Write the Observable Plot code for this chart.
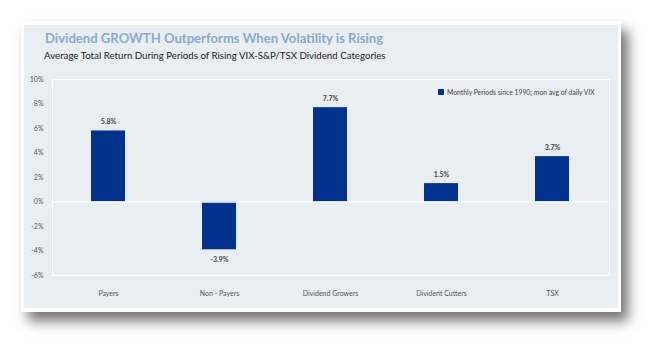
<!DOCTYPE html>
<html>
<head>
<meta charset="utf-8">
<script src="https://cdn.jsdelivr.net/npm/d3@7"></script>
<script src="https://cdn.jsdelivr.net/npm/@observablehq/plot@0.6"></script>
<style>
  html, body { margin: 0; padding: 0; background: #fff; width: 663px; height: 354px; overflow: hidden; }
  #card { position: absolute; left: 21px; top: 21px; width: 600px; height: 291px; background: #fff;
          box-shadow: 7px 9px 12px rgba(0,0,0,0.55); }
  #panel { position: absolute; left: 3px; top: 4px; right: 3px; bottom: 4px; background: #e9eef3; }
  #title { position: absolute; left: 45px; top: 30px; font-family: Lato, sans-serif; font-weight: 700;
           font-size: 13.1px; color: #8ba8cf; white-space: nowrap; }
  #subtitle { position: absolute; left: 44px; top: 49px; font-family: Lato, sans-serif; font-size: 9.7px;
              color: #1a1a1a; white-space: nowrap; }
  #legend { position: absolute; left: 438px; top: 88px; font-family: Lato, sans-serif; font-size: 6.8px;
            color: #444; white-space: nowrap; display: flex; align-items: center; }
  #legend span.sw { display: inline-block; width: 6px; height: 6px; background: #00318c; margin-right: 3px; }
  #chart { position: absolute; left: 0; top: 60px; }
</style>
</head>
<body>
<div id="card"><div id="panel"></div></div>
<div id="title">Dividend GROWTH Outperforms When Volatility is Rising</div>
<div id="subtitle">Average Total Return During Periods of Rising VIX-S&amp;P/TSX Dividend Categories</div>
<div id="legend"><span class="sw"></span>Monthly Periods since 1990; mon avg of daily VIX</div>
<div id="chart"></div>
<script>
const categories = ["Payers", "Non - Payers", "Dividend Growers", "Divident Cutters", "TSX"];
const values = [5.8, -3.9, 7.7, 1.5, 3.7];
const yTicks = [-6, -4, -2, 0, 2, 4, 6, 8, 10];

const data = categories.map((c, i) => ({category: c, value: values[i]}));
const pos = data.filter(d => d.value >= 0);
const neg = data.filter(d => d.value < 0);
const lbl = d => d.value.toFixed(1) + "%";

const plot = Plot.plot({
  width: 663,
  height: 250,
  marginLeft: 52,
  marginRight: 54,
  marginTop: 19,
  marginBottom: 35,
  style: {background: "transparent", fontFamily: "Lato, sans-serif", fontSize: "7px", color: "#555"},
  x: {domain: categories, paddingInner: 0.69, paddingOuter: 0.345, label: null, tickSize: 0, tickPadding: 16},
  y: {domain: [-6, 10], ticks: yTicks, tickFormat: d => d + "%", label: null, tickSize: 0, tickPadding: 9},
  marks: [
    Plot.frame({stroke: "#fff", strokeWidth: 1.2}),
    Plot.barY(data, {x: "category", y: "value", fill: "#00318c"}),
    Plot.ruleY([0], {stroke: "#fff", strokeWidth: 1.5}),
    Plot.text(pos, {x: "category", y: "value", text: lbl, dy: -9, fontWeight: "bold", fill: "#444", fontSize: 7}),
    Plot.text(neg, {x: "category", y: "value", text: lbl, dy: 10, fontWeight: "bold", fill: "#444", fontSize: 7})
  ]
});
document.getElementById("chart").appendChild(plot);
</script>
</body>
</html>
